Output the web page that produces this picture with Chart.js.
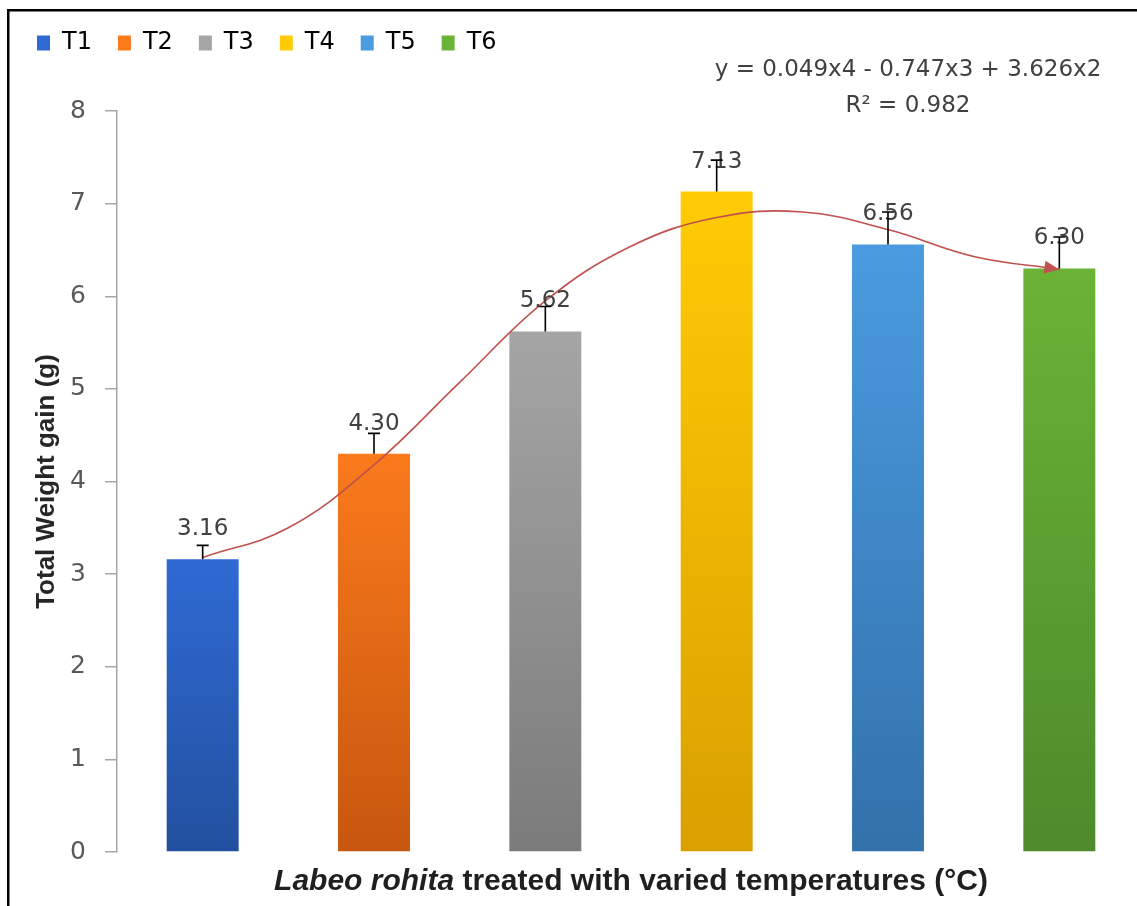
<!DOCTYPE html>
<html><head><meta charset="utf-8">
<script src="https://cdn.jsdelivr.net/npm/chart.js@4.4.1/dist/chart.umd.min.js"></script>
<style>
html,body{margin:0;padding:0;background:#fff;overflow:hidden;width:1137px;height:906px;}
#wrap{position:absolute;left:0;top:0;width:1150px;height:906px;}
</style></head><body>
<div id="wrap"><canvas id="c" width="1150" height="906"></canvas></div>
<script>
const categories = ['T1','T2','T3','T4','T5','T6'];
const weightGain = [3.16, 4.30, 5.62, 7.13, 6.56, 6.30];
const errorPlus = [0.15, 0.22, 0.27, 0.34, 0.35, 0.34];
const yTicks = [0, 1, 2, 3, 4, 5, 6, 7, 8];
const trendX = [1, 1.5, 2, 2.5, 3, 3.5, 4, 4.5, 5, 5.5, 6];
const trendY = [3.18, 3.50, 4.18, 5.07, 5.95, 6.54, 6.85, 6.91, 6.72, 6.43, 6.29];
const equationLines = ['y = 0.049x4 - 0.747x3 + 3.626x2', 'R\u00B2 = 0.982'];
const xTitleItalic = 'Labeo rohita';
const xTitleRest = ' treated with varied temperatures (\u00B0C)';
const yTitle = 'Total Weight gain (g)';

const topColors = ['#2F6AD3', '#FA7A1C', '#A5A5A5', '#FFCB05', '#4A9BE0', '#6AB336'];
const bottomColors = ['#22509F', '#C7560E', '#7B7B7B', '#D9A000', '#3371AA', '#4E8A2B'];

function barGradient(ctx) {
  const chart = ctx.chart;
  const i = ctx.dataIndex;
  if (i === undefined) return topColors[0];
  const area = chart.chartArea;
  const ys = chart.scales.y;
  if (!area || !ys || ctx.parsed === undefined) return topColors[i];
  const top = ys.getPixelForValue(ctx.parsed.y);
  const bot = ys.getPixelForValue(0);
  if (!isFinite(top) || !isFinite(bot)) return topColors[i];
  const g = chart.ctx.createLinearGradient(0, top, 0, bot);
  g.addColorStop(0, topColors[i]);
  g.addColorStop(1, bottomColors[i]);
  return g;
}

const decor = {
  id: 'decor',
  afterInit(chart) {
    const lg = chart.legend;
    if (lg) {
      const orig = lg.fit;
      lg.fit = function () { orig.call(this); this.height = 106; };
    }
  },
  beforeDraw(chart) {
    const c = chart.ctx;
    c.save();
    c.fillStyle = '#000';
    c.fillRect(7, 9, 2.5, 906);
    c.fillRect(7, 9, 1150, 2.5);
    c.restore();
  },
  afterDatasetsDraw(chart) {
    const c = chart.ctx;
    const ys = chart.scales.y;
    const lm = chart.getDatasetMeta(1);
    const pts = lm.data;
    if (pts.length > 1) {
      const last = pts[pts.length - 1];
      let px = last.cp1x, py = last.cp1y;
      if (px === undefined || (px === last.x && py === last.y)) { px = pts[pts.length - 2].x; py = pts[pts.length - 2].y; }
      const ang = Math.atan2(last.y - py, last.x - px);
      const L = 15, W = 6.5;
      c.save();
      c.fillStyle = '#C0504D';
      c.beginPath();
      c.moveTo(last.x, last.y);
      c.lineTo(last.x - L * Math.cos(ang) + W * Math.sin(ang), last.y - L * Math.sin(ang) - W * Math.cos(ang));
      c.lineTo(last.x - L * Math.cos(ang) - W * Math.sin(ang), last.y - L * Math.sin(ang) + W * Math.cos(ang));
      c.closePath();
      c.fill();
      c.restore();
    }
    const bm = chart.getDatasetMeta(0);
    c.save();
    c.fillStyle = '#404040';
    c.font = '23px "DejaVu Sans"';
    c.textAlign = 'center';
    c.textBaseline = 'middle';
    bm.data.forEach((el, i) => {
      c.fillText(weightGain[i].toFixed(2), el.x, el.y - 30);
    });
    c.strokeStyle = '#000';
    c.lineWidth = 1.6;
    bm.data.forEach((el, i) => {
      const yt = ys.getPixelForValue(weightGain[i] + errorPlus[i]);
      c.beginPath();
      c.moveTo(el.x, el.y);
      c.lineTo(el.x, yt);
      c.moveTo(el.x - 6, yt);
      c.lineTo(el.x + 6, yt);
      c.stroke();
    });
    c.restore();
  },
  afterDraw(chart) {
    const c = chart.ctx;
    const a = chart.chartArea;
    c.save();
    c.fillStyle = '#404040';
    c.font = '23px "DejaVu Sans"';
    c.textAlign = 'center';
    c.textBaseline = 'middle';
    c.fillText(equationLines[0], 908, 70);
    c.fillText(equationLines[1], 908, 106);
    const fI = 'italic bold 30px "Liberation Sans"';
    const fR = 'bold 30px "Liberation Sans"';
    c.font = fI; const w1 = c.measureText(xTitleItalic).width;
    c.font = fR; const w2 = c.measureText(xTitleRest).width;
    const cx = (a.left + a.right) / 2;
    const x0 = cx - (w1 + w2) / 2;
    c.textAlign = 'left';
    c.fillStyle = '#1F1F1F';
    c.font = fI; c.fillText(xTitleItalic, x0, 882);
    c.font = fR; c.fillText(xTitleRest, x0 + w1, 882);
    c.restore();
  }
};

new Chart(document.getElementById('c'), {
  data: {
    labels: categories,
    datasets: [
      {
        type: 'bar', label: 'Total Weight gain', data: weightGain,
        backgroundColor: barGradient, borderWidth: 0, grouped: false,
        categoryPercentage: 1, barPercentage: 0.42,
        xAxisID: 'x', yAxisID: 'y', order: 1
      },
      {
        type: 'line', label: 'Poly. trend',
        data: trendX.map((x, i) => ({ x: x, y: trendY[i] })),
        xAxisID: 'x2', yAxisID: 'y',
        borderColor: '#C0504D', borderWidth: 1.6, pointRadius: 0,
        tension: 0.4, fill: false, order: 0
      }
    ]
  },
  options: {
    responsive: false, animation: false, devicePixelRatio: 1,
    layout: { padding: { left: 11, right: 5, top: 5, bottom: 54 } },
    plugins: {
      legend: {
        position: 'top', align: 'start',
        labels: {
          boxWidth: 13, boxHeight: 15, padding: 26, color: '#404040',
          font: { family: 'DejaVu Sans', size: 24 },
          generateLabels: () => categories.map((c, i) => ({
            text: c, fillStyle: topColors[i], strokeStyle: topColors[i],
            lineWidth: 0, hidden: false, index: i, datasetIndex: 0
          }))
        }
      },
      tooltip: { enabled: false }
    },
    scales: {
      x: { type: 'category', display: false, offset: true, grid: { display: false } },
      x2: { type: 'linear', display: false, min: 0.5, max: 6.5 },
      y: {
        type: 'linear', min: 0, max: 8,
        afterBuildTicks: s => { s.ticks = yTicks.map(v => ({ value: v })); },
        afterFit: s => { s.width = 106; },
        ticks: { color: '#595959', font: { family: 'DejaVu Sans', size: 25 }, padding: 19 },
        grid: { drawOnChartArea: false, drawTicks: true, tickLength: 12, color: '#A6A6A6', lineWidth: 1.5 },
        border: { display: true, color: '#A6A6A6', width: 1.5 },
        title: {
          display: true, text: yTitle, color: '#262626',
          font: { family: 'Liberation Sans', size: 26, weight: 'bold' },
          padding: { top: 20, bottom: 0 }
        }
      }
    }
  },
  plugins: [decor]
});
</script>
</body></html>
